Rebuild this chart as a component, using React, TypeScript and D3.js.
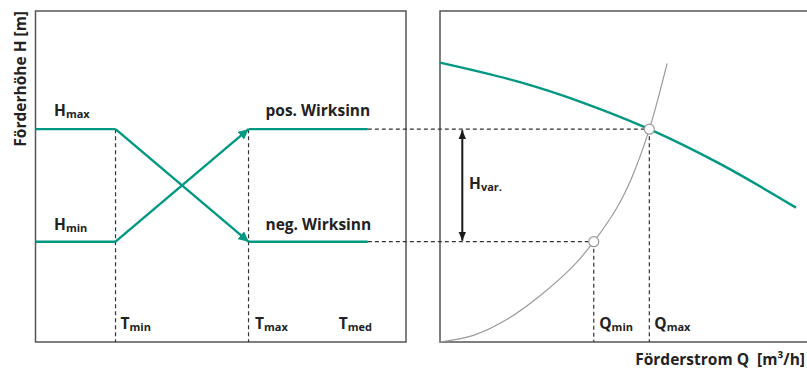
import React from "react";
import * as d3 from "d3";

// ---- data (chart units: T 0..100, Q 0..100, H 0..100) ----
const hLevels = { Hmax: 64.3, Hmin: 30.3 };
const tMarks = { Tmin: 21.6, Tmax: 57.5, Tend: 89.7 };
const posPath = [
  [0, 30.3],
  [21.6, 30.3],
  [57.5, 64.3],
  [89.7, 64.3],
];
const negPath = [
  [0, 64.3],
  [21.6, 64.3],
  [57.5, 30.3],
  [89.7, 30.3],
];
const pumpQ = [0, 21.6, 39.6, 56.5, 75.6, 96.1];
const pumpH = [84.4, 78.5, 71.9, 64.3, 53.8, 40.6];
const sysQ = [0, 9.0, 18.0, 27.0, 36.0, 41.5, 47.7, 51.7, 56.5, 61.3];
const sysH = [0, 2.0, 6.8, 14.0, 23.0, 30.3, 40.5, 49.5, 64.3, 84.2];
const opPoints = [
  { name: "min", q: 41.5, h: 30.3 },
  { name: "max", q: 56.5, h: 64.3 },
];

const GREEN = "#009882";
const FONT = "'Open Sans', 'Noto Sans', sans-serif";

export default function App() {
  const W = 807;
  const H = 369;
  const top = 11;
  const bottom = 342;
  const L = { x0: 35.5, x1: 406 };
  const R = { x0: 440, x1: 810.5 };

  const y = d3.scaleLinear().domain([0, 100]).range([bottom, top]);
  const xT = d3.scaleLinear().domain([0, 100]).range([L.x0, L.x1]);
  const xQ = d3.scaleLinear().domain([0, 100]).range([R.x0, R.x1]);

  const lineT = d3
    .line<number[]>()
    .x((d) => xT(d[0]))
    .y((d) => y(d[1]));
  const lineQ = d3
    .line<number[]>()
    .x((d) => xQ(d[0]))
    .y((d) => y(d[1]))
    .curve(d3.curveCatmullRom.alpha(0.5));

  const pumpData = pumpQ.map((q, i) => [q, pumpH[i]]);
  const sysData = sysQ.map((q, i) => [q, sysH[i]]);

  const dash = { stroke: "#333", strokeWidth: 1.2, strokeDasharray: "4,3", fill: "none" };
  const txt = { fontFamily: FONT, fontWeight: 700, fontSize: 15.5, fill: "#222" };
  const sub = { fontSize: 11, dy: 2 } as any;

  const qMin = opPoints[0];
  const qMax = opPoints[1];

  return (
    <svg width={W} height={H} style={{ position: "absolute", left: 0, top: 0 }}>
      <defs>
        <marker id="garrow" viewBox="0 0 10 10" refX="10" refY="5" markerWidth="4.2" markerHeight="4.2" markerUnits="strokeWidth" orient="auto">
          <path d="M0,0 L10,5 L0,10 Z" fill={GREEN} />
        </marker>
        <marker id="karrow" viewBox="0 0 10 10" refX="10" refY="5" markerWidth="4.5" markerHeight="5.5" markerUnits="strokeWidth" orient="auto-start-reverse">
          <path d="M0,0.8 L10,5 L0,9.2 Z" fill="#1a1a1a" />
        </marker>
      </defs>

      {/* frames */}
      <rect x={L.x0} y={top} width={L.x1 - L.x0} height={bottom - top} fill="none" stroke="#555" strokeWidth={1.5} />
      <rect x={R.x0} y={top} width={R.x1 - R.x0} height={bottom - top} fill="none" stroke="#555" strokeWidth={1.5} />

      {/* dashed guides */}
      <line x1={xT(tMarks.Tmin)} x2={xT(tMarks.Tmin)} y1={y(hLevels.Hmax)} y2={bottom} style={dash} />
      <line x1={xT(tMarks.Tmax)} x2={xT(tMarks.Tmax)} y1={y(hLevels.Hmax)} y2={bottom} style={dash} />
      <line x1={xT(tMarks.Tend)} x2={xQ(qMax.q)} y1={y(qMax.h)} y2={y(qMax.h)} style={dash} />
      <line x1={xT(tMarks.Tend)} x2={xQ(qMin.q)} y1={y(qMin.h)} y2={y(qMin.h)} style={dash} />
      <line x1={xQ(qMin.q)} x2={xQ(qMin.q)} y1={y(qMin.h)} y2={bottom} style={dash} />
      <line x1={xQ(qMax.q)} x2={xQ(qMax.q)} y1={y(qMax.h)} y2={bottom} style={dash} />

      {/* left panel green lines */}
      {[posPath, negPath].map((p, k) => (
        <g key={k} stroke={GREEN} strokeWidth={2.4} fill="none">
          <path d={lineT([p[0], p[1]]) || ""} />
          <path d={lineT([p[1], p[2]]) || ""} markerEnd="url(#garrow)" />
          <path d={lineT([p[2], p[3]]) || ""} />
        </g>
      ))}

      {/* system curve */}
      <path d={lineQ(sysData) || ""} fill="none" stroke="#9a9a9a" strokeWidth={1.2} />
      {/* pump curve */}
      <path d={lineQ(pumpData) || ""} fill="none" stroke={GREEN} strokeWidth={2.4} />

      {/* H var arrow */}
      <line x1={462.3} x2={462.3} y1={y(hLevels.Hmax) + 1} y2={y(hLevels.Hmin) - 1} stroke="#1a1a1a" strokeWidth={2} markerStart="url(#karrow)" markerEnd="url(#karrow)" />

      {/* operating points */}
      {opPoints.map((p) => (
        <circle key={p.name} cx={xQ(p.q)} cy={y(p.h)} r={5} fill="#fff" stroke="#999" strokeWidth={1.2} />
      ))}

      {/* labels */}
      <text x={54} y={115.5} style={txt}>
        H<tspan {...sub}>max</tspan>
      </text>
      <text x={54} y={230} style={txt}>
        H<tspan {...sub}>min</tspan>
      </text>
      <text x={265.5} y={115.5} style={txt}>pos. Wirksinn</text>
      <text x={265.5} y={229.5} style={txt}>neg. Wirksinn</text>
      <text x={xT(tMarks.Tmin) + 5} y={329} style={txt}>
        T<tspan {...sub}>min</tspan>
      </text>
      <text x={xT(tMarks.Tmax) + 6.5} y={329} style={txt}>
        T<tspan {...sub}>max</tspan>
      </text>
      <text x={338.7} y={329} style={txt}>
        T<tspan {...sub}>med</tspan>
      </text>
      <text x={469} y={189} style={txt}>
        H<tspan {...sub}>var.</tspan>
      </text>
      <text x={xQ(qMin.q) + 5.5} y={329} style={txt}>
        Q<tspan {...sub}>min</tspan>
      </text>
      <text x={xQ(qMax.q) + 5} y={329} style={txt}>
        Q<tspan {...sub}>max</tspan>
      </text>

      {/* axis titles */}
      <text transform="translate(25.5,11) rotate(-90)" textAnchor="end" style={txt}>
        Förderhöhe H [m]
      </text>
      <text x={805} y={364.5} textAnchor="end" style={txt} xmlSpace="preserve">
        Förderstrom Q  [m³/h]
      </text>
    </svg>
  );
}
